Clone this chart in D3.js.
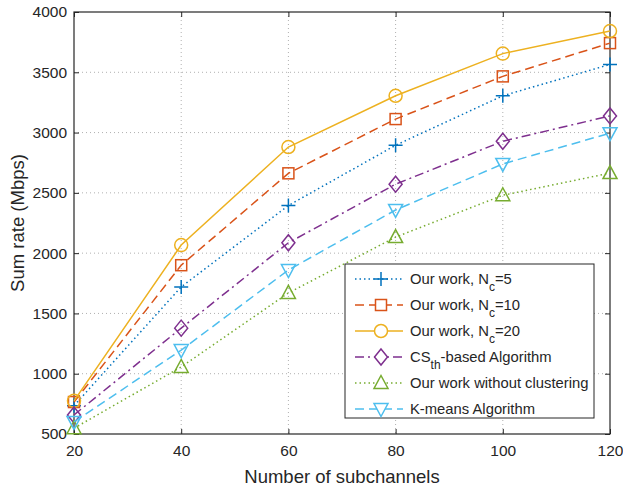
<!DOCTYPE html>
<html>
<head>
<meta charset="utf-8">
<script src="https://cdn.jsdelivr.net/npm/d3@7"></script>
<style>
  body { margin: 0; background: #fff; }
  text { font-family: "Liberation Sans", Arial, sans-serif; fill: #262626; }
</style>
</head>
<body>
<svg id="chart" width="623" height="489"></svg>
<script>
// data
const subchannels = [20, 40, 60, 80, 100, 120];
const nc5 = [735, 1720, 2395, 2895, 3305, 3565];
const nc10 = [765, 1900, 2662, 3112, 3466, 3742];
const nc20 = [775, 2067, 2880, 3305, 3655, 3842];
const csth = [658, 1378, 2086, 2572, 2928, 3138];
const noCluster = [548, 1056, 1670, 2133, 2480, 2664];
const kmeans = [600, 1196, 1860, 2358, 2740, 2995];
const xTicks = [20, 40, 60, 80, 100, 120];
const yTicks = [500, 1000, 1500, 2000, 2500, 3000, 3500, 4000];

const series = [
    { name: "nc5", values: nc5, color: "#0072BD", dash: "1.5,3", marker: "plus" },
    { name: "nc10", values: nc10, color: "#D95319", dash: "9,5", marker: "square" },
    { name: "nc20", values: nc20, color: "#EDB120", dash: null, marker: "circle" },
    { name: "csth", values: csth, color: "#7E2F8E", dash: "9,4,2,4", marker: "diamond" },
    { name: "noCluster", values: noCluster, color: "#77AC30", dash: "1.5,3", marker: "up" },
    { name: "kmeans", values: kmeans, color: "#4DBEEE", dash: "9,5", marker: "down" }
];

const margin = { left: 74, top: 12, right: 13, bottom: 55 };
const width = 623, height = 489;
const innerW = width - margin.left - margin.right;
const innerH = height - margin.top - margin.bottom;

const svg = d3.select("#chart");
const g = svg.append("g").attr("transform", `translate(${margin.left},${margin.top})`);

const x = d3.scaleLinear().domain([20, 120]).range([0, innerW]);
const y = d3.scaleLinear().domain([500, 4000]).range([innerH, 0]);

// grid
g.append("g").selectAll("line").data(xTicks.slice(1, -1)).join("line")
    .attr("x1", d => x(d)).attr("x2", d => x(d))
    .attr("y1", 0).attr("y2", innerH)
    .attr("stroke", "#b0b0b0").attr("stroke-width", 1).attr("stroke-dasharray", "1,3");
g.append("g").selectAll("line").data(yTicks.slice(1, -1)).join("line")
    .attr("y1", d => y(d)).attr("y2", d => y(d))
    .attr("x1", 0).attr("x2", innerW)
    .attr("stroke", "#b0b0b0").attr("stroke-width", 1).attr("stroke-dasharray", "1,3");

// axes with inward ticks on all four sides
const tickLen = 5;
const xAxis = g.append("g").attr("transform", `translate(0,${innerH})`)
    .call(d3.axisBottom(x).tickValues(xTicks).tickSizeInner(-tickLen).tickSizeOuter(0)
        .tickPadding(11).tickFormat(d3.format("d")));
const yAxis = g.append("g")
    .call(d3.axisLeft(y).tickValues(yTicks).tickSizeInner(-tickLen).tickSizeOuter(0)
        .tickPadding(7).tickFormat(d3.format("d")));
g.append("g").call(d3.axisTop(x).tickValues(xTicks).tickSizeInner(-tickLen).tickSizeOuter(0).tickFormat(""));
g.append("g").attr("transform", `translate(${innerW},0)`)
    .call(d3.axisRight(y).tickValues(yTicks).tickSizeInner(-tickLen).tickSizeOuter(0).tickFormat(""));
g.selectAll(".domain").remove();
g.selectAll(".tick line").attr("stroke", "#262626");
xAxis.attr("font-size", 15.5).attr("font-family", null);
yAxis.attr("font-size", 15.5).attr("font-family", null);
xAxis.selectAll("text").attr("fill", "#262626");
yAxis.selectAll("text").attr("fill", "#262626");

g.append("rect").attr("width", innerW).attr("height", innerH)
    .attr("fill", "none").attr("stroke", "#262626").attr("stroke-width", 1.2);

// marker drawing
function drawMarker(sel, type, color) {
    const s = 7;
    if (type === "plus") {
        sel.append("path").attr("d", `M${-s},0H${s}M0,${-s}V${s}`);
    } else if (type === "square") {
        sel.append("rect").attr("x", -5.5).attr("y", -5.5).attr("width", 11).attr("height", 11);
    } else if (type === "circle") {
        sel.append("circle").attr("r", 6.5);
    } else if (type === "diamond") {
        sel.append("path").attr("d", "M0,-8L6.5,0L0,8L-6.5,0Z");
    } else if (type === "up") {
        sel.append("path").attr("d", "M0,-7.5L7,5.5L-7,5.5Z");
    } else if (type === "down") {
        sel.append("path").attr("d", "M0,7.5L7,-5.5L-7,-5.5Z");
    }
    sel.selectAll("*").attr("fill", "none").attr("stroke", color).attr("stroke-width", 1.5);
}

const line = d3.line().x((d, i) => x(subchannels[i])).y(d => y(d));

series.forEach(s => {
    g.append("path").datum(s.values)
        .attr("d", line)
        .attr("fill", "none")
        .attr("stroke", s.color)
        .attr("stroke-width", 1.5)
        .attr("stroke-dasharray", s.dash);
    s.values.forEach((v, i) => {
        const m = g.append("g").attr("transform", `translate(${x(subchannels[i])},${y(v)})`);
        drawMarker(m, s.marker, s.color);
    });
});

// axis labels
svg.append("text")
    .attr("x", margin.left + innerW / 2).attr("y", 483)
    .attr("text-anchor", "middle").attr("font-size", 18.5)
    .text("Number of subchannels");
svg.append("text")
    .attr("transform", `translate(24,${margin.top + innerH / 2}) rotate(-90)`)
    .attr("text-anchor", "middle").attr("font-size", 18.5)
    .text("Sum rate (Mbps)");

// legend
const legend = svg.append("g").attr("transform", "translate(345,264)");
legend.append("rect").attr("width", 249).attr("height", 154)
    .attr("fill", "#fff").attr("stroke", "#262626").attr("stroke-width", 1);

const labels = [
    { main: "Our work, N", sub: "c", tail: "=5" },
    { main: "Our work, N", sub: "c", tail: "=10" },
    { main: "Our work, N", sub: "c", tail: "=20" },
    { main: "CS", sub: "th", tail: "-based Algorithm" },
    { main: "Our work without clustering", sub: "", tail: "" },
    { main: "K-means Algorithm", sub: "", tail: "" }
];

series.forEach((s, i) => {
    const ly = 15 + i * 26;
    const row = legend.append("g").attr("transform", `translate(0,${ly})`);
    row.append("line").attr("x1", 10).attr("x2", 58).attr("y1", 0).attr("y2", 0)
        .attr("stroke", s.color).attr("stroke-width", 1.5).attr("stroke-dasharray", s.dash);
    const m = row.append("g").attr("transform", "translate(36,0)");
    drawMarker(m, s.marker, s.color);
    m.selectAll("*").attr("fill", "#fff");
    const t = row.append("text").attr("x", 65).attr("y", 5).attr("font-size", 14.8);
    t.append("tspan").text(labels[i].main);
    if (labels[i].sub) {
        t.append("tspan").attr("dy", 7).attr("font-size", 12).text(labels[i].sub);
        t.append("tspan").attr("dy", -7).text(labels[i].tail);
    }
});
</script>
</body>
</html>
